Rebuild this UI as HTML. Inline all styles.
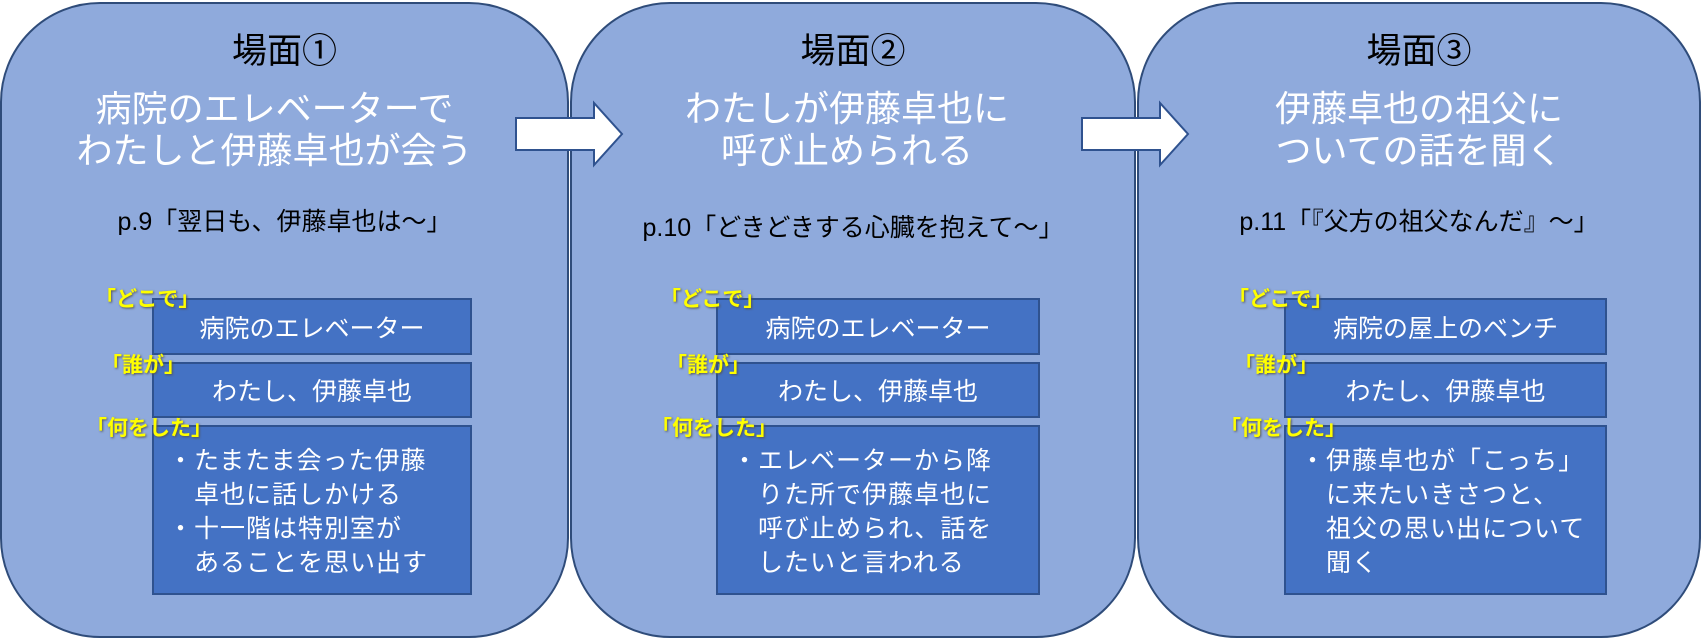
<!DOCTYPE html>
<html><head><meta charset="utf-8"><style>
body{margin:0;width:1702px;height:642px;background:#fff;position:relative;overflow:hidden;font-family:"Liberation Sans","Noto Sans CJK JP",sans-serif}
.p{position:absolute;top:2px;height:636px;background:#8FAADC;border:2px solid #2F4C7A;border-radius:100px;box-sizing:border-box}
.t{position:absolute;text-align:center;white-space:nowrap}
.h{font-size:35px;color:#000;line-height:40px}
.w{font-size:36px;color:#fff;line-height:42px;margin-top:16px}
.pg{font-size:25px;color:#000}
.b{position:absolute;background:#4472C4;border:2px solid #2F528F;box-sizing:border-box;color:#fff;font-size:25px}
.b.c{display:flex;align-items:center;justify-content:center}
.b.l{padding:17px 0 0 14px;line-height:34px;white-space:nowrap;letter-spacing:1px}
.y{position:absolute;color:#FFFF00;font-weight:bold;font-size:21px;text-shadow:1px 1px 2px #555;white-space:nowrap;z-index:2}
</style></head><body>
<div class="p" style="left:0;width:569px"></div>
<div class="p" style="left:570px;width:566px"></div>
<div class="p" style="left:1137px;width:564px"></div>

<svg style="position:absolute;left:0;top:0" width="1702" height="642">
<polygon points="516,118 594,118 594,103 622,134 594,165 594,150 516,150" fill="#fff" stroke="#2F528F" stroke-width="2"/>
<polygon points="1082,118 1160,118 1160,103 1188,134 1160,165 1160,150 1082,150" fill="#fff" stroke="#2F528F" stroke-width="2"/>
</svg>

<div class="t" style="left:0;width:569px;top:32px"><div class="h">場面①</div><div class="w" style="margin-left:-20px">病院のエレベーターで<br>わたしと伊藤卓也が会う</div></div>
<div class="t pg" style="left:0;width:569px;top:202px">p.9「翌日も、伊藤卓也は～」</div>
<div class="t" style="left:570px;width:566px;top:32px"><div class="h">場面②</div><div class="w" style="margin-left:-12px">わたしが伊藤卓也に<br>呼び止められる</div></div>
<div class="t pg" style="left:570px;width:566px;top:208px">p.10「どきどきする心臓を抱えて～」</div>
<div class="t" style="left:1137px;width:564px;top:32px"><div class="h">場面③</div><div class="w">伊藤卓也の祖父に<br>ついての話を聞く</div></div>
<div class="t pg" style="left:1137px;width:564px;top:202px">p.11「『父方の祖父なんだ』～」</div>

<!-- panel 1 -->
<div class="b c" style="left:152px;top:298px;width:320px;height:57px">病院のエレベーター</div>
<div class="b c" style="left:152px;top:362px;width:320px;height:56px">わたし、伊藤卓也</div>
<div class="b l" style="left:152px;top:425px;width:320px;height:170px">・たまたま会った伊藤<br>　卓也に話しかける<br>・十一階は特別室が<br>　あることを思い出す</div>
<div class="y" style="left:95px;top:283px">「どこで」</div>
<div class="y" style="left:101px;top:349px">「誰が」</div>
<div class="y" style="left:86px;top:412px">「何をした」</div>

<!-- panel 2 -->
<div class="b c" style="left:716px;top:298px;width:324px;height:57px">病院のエレベーター</div>
<div class="b c" style="left:716px;top:362px;width:324px;height:56px">わたし、伊藤卓也</div>
<div class="b l" style="left:716px;top:425px;width:324px;height:170px">・エレベーターから降<br>　りた所で伊藤卓也に<br>　呼び止められ、話を<br>　したいと言われる</div>
<div class="y" style="left:660px;top:283px">「どこで」</div>
<div class="y" style="left:666px;top:349px">「誰が」</div>
<div class="y" style="left:651px;top:412px">「何をした」</div>

<!-- panel 3 -->
<div class="b c" style="left:1284px;top:298px;width:323px;height:57px">病院の屋上のベンチ</div>
<div class="b c" style="left:1284px;top:362px;width:323px;height:56px">わたし、伊藤卓也</div>
<div class="b l" style="left:1284px;top:425px;width:323px;height:170px">・伊藤卓也が「こっち」<br>　に来たいきさつと、<br>　祖父の思い出について<br>　聞く</div>
<div class="y" style="left:1228px;top:283px">「どこで」</div>
<div class="y" style="left:1234px;top:349px">「誰が」</div>
<div class="y" style="left:1220px;top:412px">「何をした」</div>
</body></html>
